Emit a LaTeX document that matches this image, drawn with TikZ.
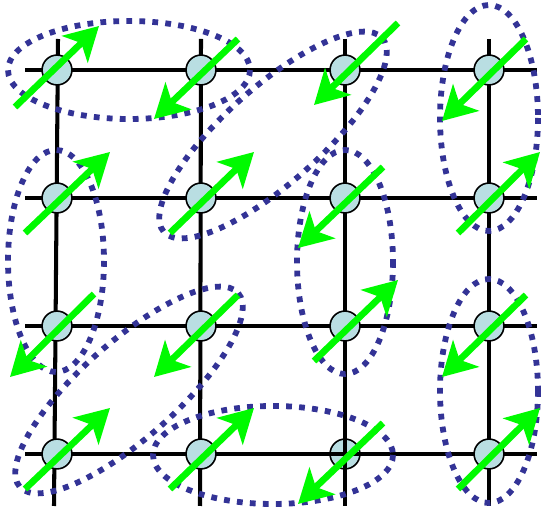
\documentclass[tikz,border=0pt]{standalone}
\usetikzlibrary{arrows.meta}
\definecolor{verde}{RGB}{0,250,0}
\definecolor{azulosc}{RGB}{51,51,150}
\definecolor{celeste}{RGB}{185,222,226}

\begin{document}
\begin{tikzpicture}
  [x=0.02cm, y=-0.02cm,
   sitio/.style={circle, fill=celeste, draw=black, line width=0.9pt, inner sep=0pt, minimum size=17pt},
   arista/.style={line width=2.3pt, draw=black},
   espin/.style={line width=3.8pt, draw=verde, -{Stealth[length=19pt, width=21pt, inset=5pt]}},
   par/.style={line width=3.3pt, draw=azulosc, dash pattern=on 3.3pt off 4.1pt}]

  \useasboundingbox (0,0) rectangle (542,513);

  % Malla
  \foreach \i/\x/\xb in {0/58/54, 1/201/200, 2/345/345, 3/489/489} {
    \coordinate (arr\i) at (\x,39);
    \coordinate (aba\i) at (\xb,506);
    \draw[arista] (arr\i) -- (aba\i);
  }
  \foreach \j/\y in {0/70, 1/198, 2/326, 3/454} {
    \coordinate (izq\j) at (25,\y);
    \coordinate (der\j) at (537,\y);
    \draw[arista] (izq\j) -- (der\j);
  }

  % Pares (elipses)
  \draw[par] (129,70) ellipse [x radius=121, y radius=49];
  \draw[par] (273,455) ellipse [x radius=120, y radius=49];
  \draw[par] (56,261) ellipse [x radius=48, y radius=111];
  \draw[par] (345,262) ellipse [x radius=48, y radius=112];
  \draw[par] (489,118) ellipse [x radius=49, y radius=113];
  \draw[par] (489,391) ellipse [x radius=49, y radius=112];
  \draw[par, rotate around={41.6:(273,135)}] (273,135) ellipse [x radius=146, y radius=48];
  \draw[par, rotate around={41.6:(129,390)}] (129,390) ellipse [x radius=146, y radius=48];

  % Sitios
  \foreach \i/\x in {0/57, 1/201, 2/345, 3/489}
    \foreach \j/\y in {0/70, 1/198, 2/326, 3/454}
      \node[sitio] (s\i\j) at (\x,\y) {};

  % la malla se ve a traves de s23
  \draw[arista] (s23.north) -- (s23.south);
  \draw[arista] (s23.west) -- (s23.east);

  % Espines
  \foreach \n/\xa/\ya/\xb/\yb in {
      00/15/107/99/26,     10/238/39/154/119,  20/398/23/314/105,  30/526/39/442/121,
      01/25/233/110/152,   11/170/233/254/152, 21/383/167/298/248, 31/458/233/540/152,
      02/94/294/10/377,    12/238/295/154/377, 22/314/361/398/280, 32/526/295/442/377,
      03/25/489/110/408,   13/170/489/254/408, 23/383/423/298/504, 33/458/489/540/408} {
    \coordinate (c\n) at (\xa,\ya);
    \coordinate (p\n) at (\xb,\yb);
    \draw[espin] (c\n) -- (p\n);
  }
\end{tikzpicture}
\end{document}
